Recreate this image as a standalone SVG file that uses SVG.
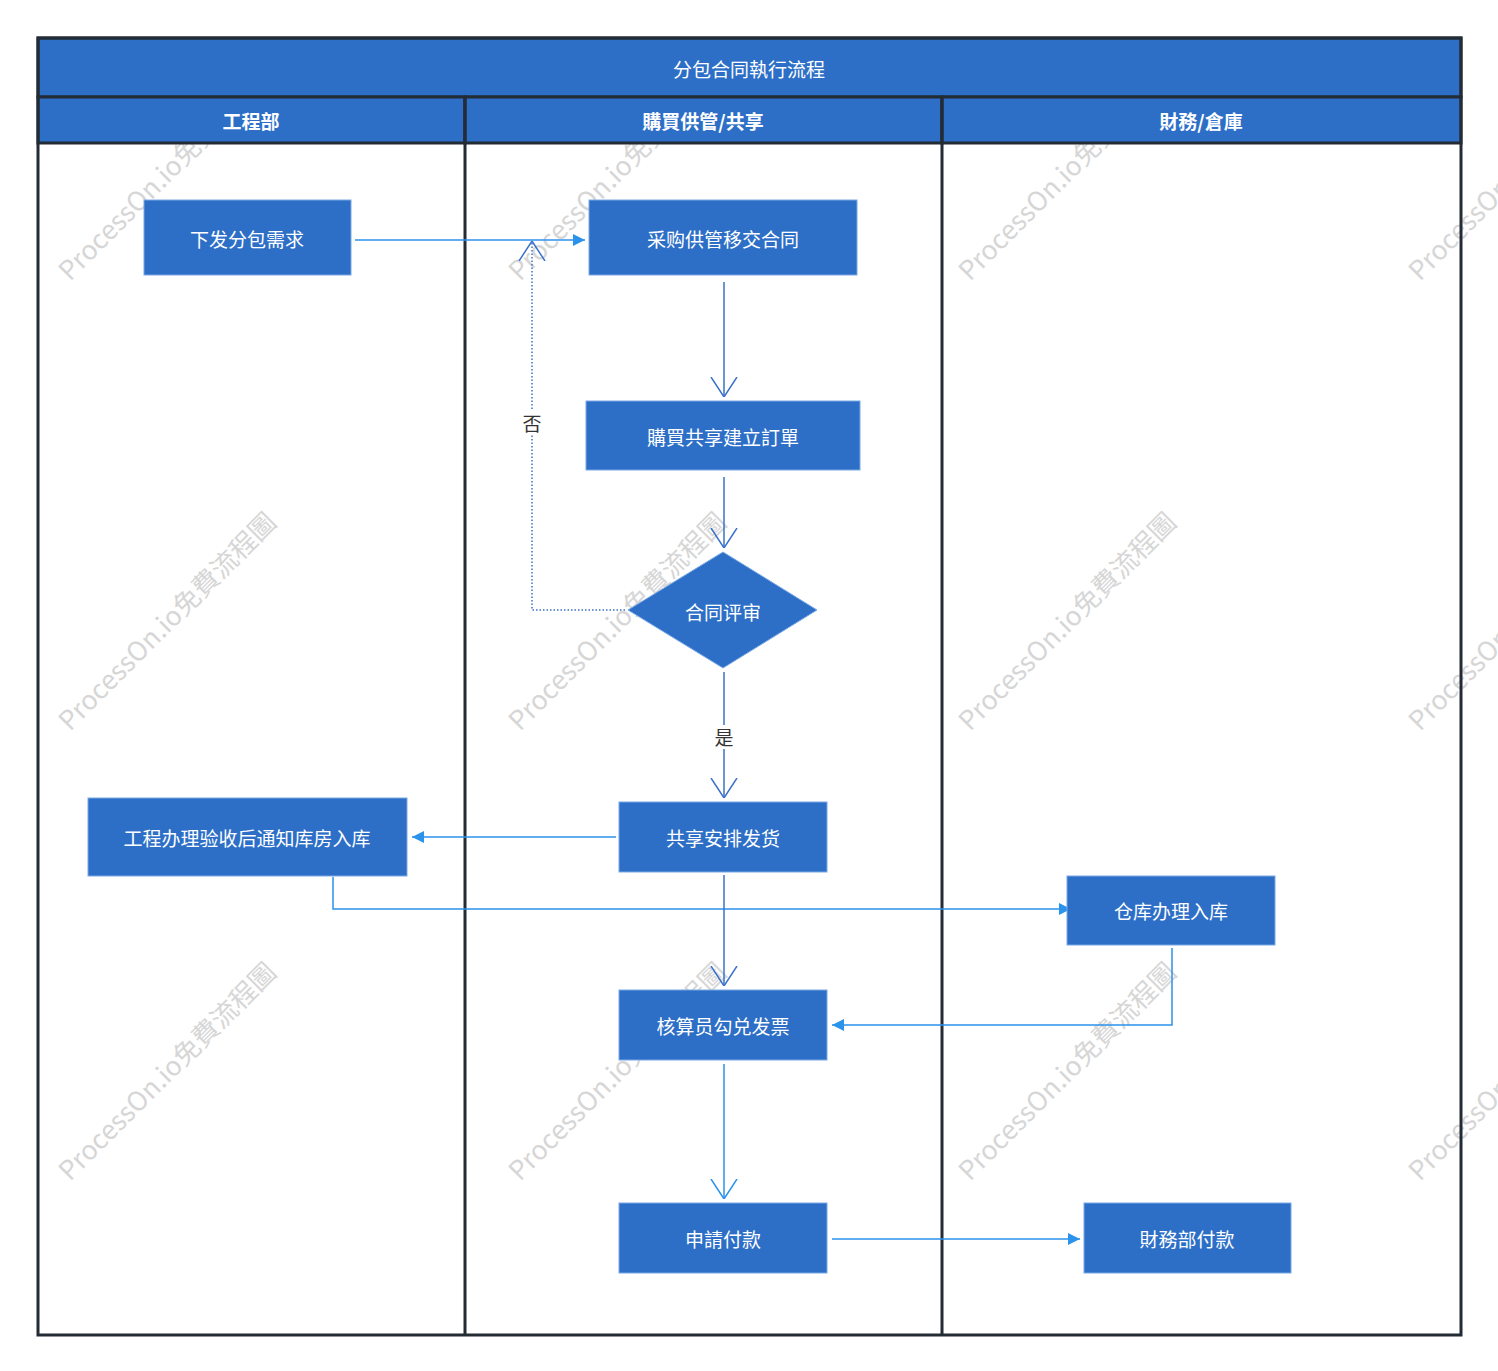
<svg xmlns="http://www.w3.org/2000/svg" width="1498" height="1371" viewBox="0 0 1498 1371">
<style>
text{font-family:"Noto Sans CJK SC","Noto Sans CJK TC",sans-serif}
.node{fill:#2d6fc7;stroke:#7aa8e6;stroke-width:1}
.nt{fill:#fff;font-size:19px;text-anchor:middle;dominant-baseline:central}
.hdr{fill:#2d6fc7;stroke:#232b35;stroke-width:3}
.ht{fill:#fff;font-size:19px;font-weight:bold;text-anchor:middle;dominant-baseline:central}
.wm{fill:#d6d6d6;font-size:26.5px}
.c1{fill:none;stroke:#2b93ec;stroke-width:1.5}
.c2{fill:none;stroke:#3b72c9;stroke-width:1.5}
.lbl{fill:#333;font-size:19px;text-anchor:middle;dominant-baseline:central}
</style>
<defs>
<marker id="tri" viewBox="0 0 10 10" refX="10" refY="5" markerWidth="14" markerHeight="12" markerUnits="userSpaceOnUse" orient="auto"><path d="M0,0 L10,5 L0,10 z" fill="#2b93ec"/></marker>
<marker id="vee" viewBox="0 0 20 28" refX="20" refY="14" markerWidth="20" markerHeight="28" markerUnits="userSpaceOnUse" orient="auto"><path d="M0,1 L20,14 L0,27" fill="none" stroke="#3b72c9" stroke-width="1.5"/></marker>
<marker id="vee2" viewBox="0 0 20 28" refX="20" refY="14" markerWidth="20" markerHeight="28" markerUnits="userSpaceOnUse" orient="auto"><path d="M0,1 L20,14 L0,27" fill="none" stroke="#2b93ec" stroke-width="1.5"/></marker>
</defs>
<rect width="1498" height="1371" fill="#fff"/>
<g id="watermarks">
<text class="wm" transform="translate(70,282) rotate(-45)">ProcessOn.io免費流程圖</text>
<text class="wm" transform="translate(520,282) rotate(-45)">ProcessOn.io免費流程圖</text>
<text class="wm" transform="translate(970,282) rotate(-45)">ProcessOn.io免費流程圖</text>
<text class="wm" transform="translate(1420,282) rotate(-45)">ProcessOn.io免費流程圖</text>
<text class="wm" transform="translate(70,732) rotate(-45)">ProcessOn.io免費流程圖</text>
<text class="wm" transform="translate(520,732) rotate(-45)">ProcessOn.io免費流程圖</text>
<text class="wm" transform="translate(970,732) rotate(-45)">ProcessOn.io免費流程圖</text>
<text class="wm" transform="translate(1420,732) rotate(-45)">ProcessOn.io免費流程圖</text>
<text class="wm" transform="translate(70,1182) rotate(-45)">ProcessOn.io免費流程圖</text>
<text class="wm" transform="translate(520,1182) rotate(-45)">ProcessOn.io免費流程圖</text>
<text class="wm" transform="translate(970,1182) rotate(-45)">ProcessOn.io免費流程圖</text>
<text class="wm" transform="translate(1420,1182) rotate(-45)">ProcessOn.io免費流程圖</text>
</g>
<g id="pool">
<rect x="0" y="0" width="1498" height="38" fill="#fff"/>
<rect class="hdr" x="38" y="38" width="1423" height="59"/>
<text class="nt" x="749" y="68">分包合同執行流程</text>
<rect class="hdr" x="38" y="97" width="427" height="46"/>
<rect class="hdr" x="465" y="97" width="477" height="46"/>
<rect class="hdr" x="942" y="97" width="519" height="46"/>
<text class="ht" x="251" y="120">工程部</text>
<text class="ht" x="703" y="120">購買供管/共享</text>
<text class="ht" x="1201" y="120">財務/倉庫</text>
<rect x="38" y="38" width="1423" height="1297" fill="none" stroke="#232b35" stroke-width="3"/>
<line x1="465" y1="97" x2="465" y2="1335" stroke="#232b35" stroke-width="3"/>
<line x1="942" y1="97" x2="942" y2="1335" stroke="#232b35" stroke-width="3"/>
</g>
<g id="connectors">
<path class="c1" d="M355,240 H585" marker-end="url(#tri)"/>
<path class="c2" d="M724,282 V397" marker-end="url(#vee)"/>
<path class="c2" d="M724,477 V548" marker-end="url(#vee)"/>
<path class="c2" d="M625,610 H532 V241" stroke-dasharray="1.5 2" marker-end="url(#vee)"/>
<rect x="519" y="411" width="26" height="24" fill="#fff"/>
<text class="lbl" x="532" y="422">否</text>
<path class="c2" d="M724,672 V798" marker-end="url(#vee)"/>
<rect x="711" y="725" width="26" height="24" fill="#fff"/>
<text class="lbl" x="724" y="736">是</text>
<path class="c1" d="M616,837 H412" marker-end="url(#tri)"/>
<path class="c1" d="M333,877 V909 H1071" marker-end="url(#tri)"/>
<path class="c2" d="M724,875 V986" marker-end="url(#vee)"/>
<path class="c1" d="M1172,948 V1025 H832" marker-end="url(#tri)"/>
<path class="c1" d="M724,1064 V1199" marker-end="url(#vee2)"/>
<path class="c1" d="M832,1239 H1080" marker-end="url(#tri)"/>
</g>
<g id="n1"><rect class="node" x="144" y="200" width="207" height="75"/><text class="nt" x="247" y="238">下发分包需求</text></g>
<g id="n2"><rect class="node" x="589" y="200" width="268" height="75"/><text class="nt" x="723" y="238">采购供管移交合同</text></g>
<g id="n3"><rect class="node" x="586" y="401" width="274" height="69"/><text class="nt" x="723" y="436">購買共享建立訂單</text></g>
<g id="n4"><path class="node" d="M723,552 L817,610 L723,668 L628,610 Z"/><text class="nt" x="723" y="611">合同评审</text></g>
<g id="n5"><rect class="node" x="619" y="802" width="208" height="70"/><text class="nt" x="723" y="837">共享安排发货</text></g>
<g id="n6"><rect class="node" x="88" y="798" width="319" height="78"/><text class="nt" x="247" y="837">工程办理验收后通知库房入库</text></g>
<g id="n7"><rect class="node" x="1067" y="876" width="208" height="69"/><text class="nt" x="1171" y="910">仓库办理入库</text></g>
<g id="n8"><rect class="node" x="619" y="990" width="208" height="70"/><text class="nt" x="723" y="1025">核算员勾兑发票</text></g>
<g id="n9"><rect class="node" x="619" y="1203" width="208" height="70"/><text class="nt" x="723" y="1238">申請付款</text></g>
<g id="n10"><rect class="node" x="1084" y="1203" width="207" height="70"/><text class="nt" x="1187" y="1238">財務部付款</text></g>
</svg>
